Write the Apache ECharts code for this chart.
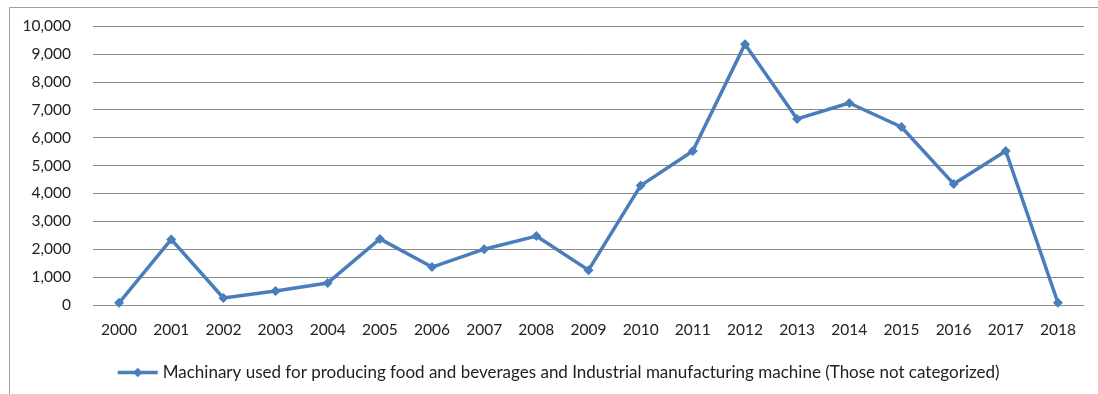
<!DOCTYPE html>
<html>
<head>
<meta charset="utf-8">
<script src="https://cdn.jsdelivr.net/npm/echarts@6/dist/echarts.min.js"></script>
<style>html,body{margin:0;padding:0;background:#fff}#c{width:1098px;height:394px}</style>
</head>
<body>
<div id="c"></div>
<script>
const years = ['2000','2001','2002','2003','2004','2005','2006','2007','2008','2009','2010','2011','2012','2013','2014','2015','2016','2017','2018'];
const values = [80, 2350, 250, 500, 790, 2370, 1360, 2000, 2470, 1250, 4280, 5520, 9350, 6670, 7240, 6380, 4340, 5520, 80];
const seriesName = 'Machinary used for producing food and beverages and Industrial manufacturing machine (Those not categorized)';

const font = 'Lato, "Open Sans", sans-serif';
const chart = echarts.init(document.getElementById('c'));
chart.setOption({
  animation: false,
  graphic: [{
    type: 'rect', left: 7, top: 5,
    shape: {width: 1200, height: 387},
    style: {fill: 'none', stroke: '#a0a0a0', lineWidth: 1}
  }],
  grid: {left: 93, right: 14, top: 26, bottom: 89},
  legend: {
    left: 111, top: 359,
    itemWidth: 40, itemHeight: 12, itemGap: 2,
    lineStyle: {width: 3.5},
    textStyle: {fontFamily: font, fontSize: 17, color: '#222'},
    data: [{name: seriesName}]
  },
  xAxis: {
    type: 'category', data: years, boundaryGap: true,
    axisLine: {show: false}, axisTick: {show: false},
    axisLabel: {margin: 17, fontFamily: font, fontSize: 15.5, color: '#222'}
  },
  yAxis: {
    type: 'value', min: 0, max: 10000, interval: 1000,
    axisLine: {show: false}, axisTick: {show: false},
    splitLine: {lineStyle: {color: '#8c8c8c', width: 1}},
    axisLabel: {margin: 22, fontFamily: font, fontSize: 15.5, color: '#222',
      formatter: v => v.toLocaleString('en-US')}
  },
  series: [{
    name: seriesName, type: 'line', data: values,
    symbol: 'diamond', symbolSize: 10,
    lineStyle: {color: '#4a7ebb', width: 3.5},
    itemStyle: {color: '#4a7ebb'}
  }]
});
</script>
</body>
</html>
